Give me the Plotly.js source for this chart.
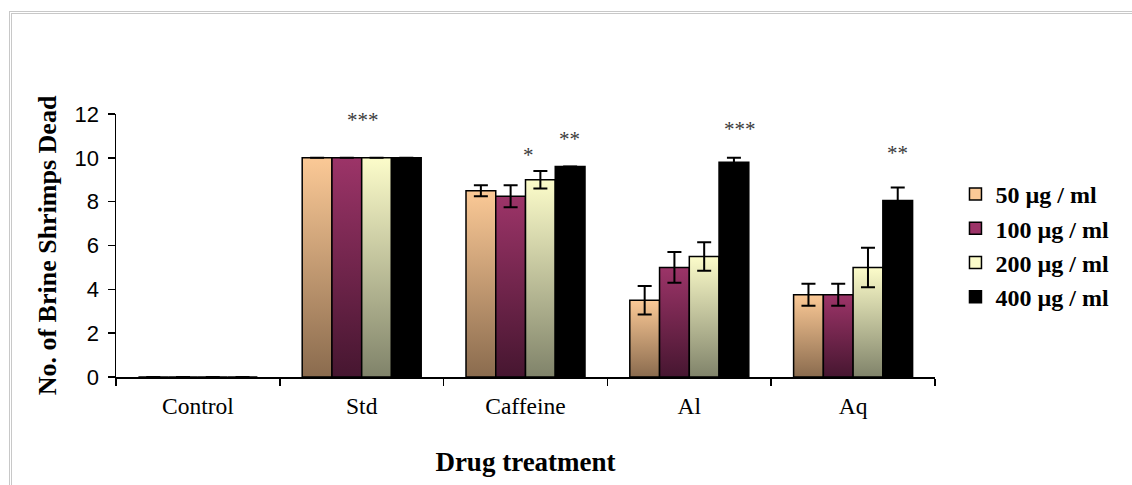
<!DOCTYPE html>
<html>
<head>
<meta charset="utf-8">
<script src="https://cdn.plot.ly/plotly-3.0.1.min.js"></script>
<style>
  html, body { margin: 0; padding: 0; background: #fff; }
  #wrap { position: relative; width: 1132px; height: 485px; overflow: hidden; }
  #frame { position: absolute; left: 9px; top: 11px; width: 1200px; height: 600px;
           border-top: 3px double #c8c8c8; border-left: 3px double #c8c8c8; box-sizing: border-box; }
  #chart { position: absolute; left: 0; top: 0; width: 1132px; height: 485px; }
</style>
</head>
<body>
<div id="wrap">
  <div id="frame"></div>
  <div id="chart"></div>
</div>
<script>
// ---- data ----
const categories = ['Control', 'Std', 'Caffeine', 'Al', 'Aq'];
const seriesNames = ['50 µg / ml', '100 µg / ml', '200 µg / ml', '400 µg / ml'];
const vals50  = [0, 10, 8.5, 3.5, 3.75];
const vals100 = [0, 10, 8.25, 5.0, 3.75];
const vals200 = [0, 10, 9.0, 5.5, 5.0];
const vals400 = [0, 10, 9.6, 9.8, 8.05];
const err50  = [0, 0, 0.25, 0.65, 0.5];
const err100 = [0, 0, 0.5, 0.7, 0.5];
const err200 = [0, 0, 0.4, 0.65, 0.9];
const err400 = [0, 0, 0, 0.2, 0.6];
// significance labels
const sigCategory = ['Std', 'Caffeine', 'Caffeine', 'Al', 'Aq'];
const sigText     = ['***', '*', '**', '***', '**'];
const sigOffset   = [0.01, 0.02, 0.27, 0.31, 0.27];
const sigY        = [11.95, 10.35, 11.1, 11.55, 10.45];
const yTicks = [0, 2, 4, 6, 8, 10, 12];

// ---- styles ----
const gradTop = ['#fbc996', '#9c3468', '#fcfcca', '#000000'];
const gradBot = ['#8a6b4e', '#461630', '#80836a', '#000000'];
const serif = 'Liberation Serif, Times New Roman, serif';
const sans = 'Liberation Sans, Arial, sans-serif';

const allVals = [vals50, vals100, vals200, vals400];
const allErr = [err50, err100, err200, err400];

const traces = seriesNames.map((name, i) => ({
  type: 'bar',
  name: name,
  x: categories,
  y: allVals[i],
  legendgroup: 'g' + i,
  marker: { color: gradTop[i], line: { color: '#000', width: 1.5 } },
  error_y: { type: 'data', array: allErr[i], visible: true, color: '#000', thickness: 2, width: 7 },
  hoverinfo: 'x+y+name'
}));

const annotations = sigText.map((t, i) => ({
  x: categories.indexOf(sigCategory[i]) + sigOffset[i],
  y: sigY[i],
  xref: 'x', yref: 'y',
  text: t,
  showarrow: false,
  yanchor: 'middle',
  yshift: -5,
  font: { family: serif, size: 21, color: '#3a3a3a' }
}));

const layout = {
  width: 1132, height: 485,
  paper_bgcolor: 'rgba(0,0,0,0)',
  plot_bgcolor: 'rgba(0,0,0,0)',
  margin: { l: 116, r: 197, t: 114, b: 108, pad: 0 },
  barmode: 'group',
  bargap: 0.2735,
  bargroupgap: 0,
  showlegend: true,
  legend: {
    x: 1.025, xanchor: 'left', y: 0.5, yanchor: 'middle',
    font: { family: serif, size: 24, color: '#000', weight: 'bold' },
    traceorder: 'grouped', tracegroupgap: 0,
    bgcolor: 'rgba(0,0,0,0)'
  },
  xaxis: {
    type: 'category',
    showline: true, linecolor: '#000', linewidth: 1.5,
    ticks: 'outside', tickson: 'boundaries', ticklen: 7, tickwidth: 1.5, tickcolor: '#000',
    showgrid: false, zeroline: false,
    tickfont: { family: serif, size: 23.5, color: '#000' },
    ticklabelstandoff: 7,
    title: { text: '<b>Drug treatment</b>', font: { family: serif, size: 27, color: '#000' }, standoff: 34 }
  },
  yaxis: {
    range: [0, 12],
    tickvals: yTicks,
    showline: true, linecolor: '#000', linewidth: 1.5,
    ticks: 'outside', ticklen: 7, tickwidth: 1.5, tickcolor: '#000',
    showgrid: false, zeroline: false,
    tickfont: { family: sans, size: 22, color: '#000' },
    ticklabelstandoff: 4,
    title: { text: '<b>No. of Brine Shrimps Dead</b>', font: { family: serif, size: 26, color: '#000' }, standoff: 10 }
  },
  annotations: annotations
};

Plotly.newPlot('chart', traces, layout, { displayModeBar: false, staticPlot: true }).then(gd => {
  const svg = gd.querySelector('svg.main-svg');
  const ns = 'http://www.w3.org/2000/svg';
  let defs = svg.querySelector('defs');
  if (!defs) { defs = document.createElementNS(ns, 'defs'); svg.insertBefore(defs, svg.firstChild); }
  gradTop.forEach((c, i) => {
    const lg = document.createElementNS(ns, 'linearGradient');
    lg.setAttribute('id', 'barGrad' + i);
    lg.setAttribute('x1', '0'); lg.setAttribute('y1', '0');
    lg.setAttribute('x2', '0'); lg.setAttribute('y2', '1');
    const s1 = document.createElementNS(ns, 'stop');
    s1.setAttribute('offset', '0'); s1.setAttribute('stop-color', c);
    const s2 = document.createElementNS(ns, 'stop');
    s2.setAttribute('offset', '1'); s2.setAttribute('stop-color', gradBot[i]);
    lg.appendChild(s1); lg.appendChild(s2);
    defs.appendChild(lg);
  });
  const barTraces = svg.querySelectorAll('.barlayer .trace');
  barTraces.forEach((tr, i) => {
    tr.querySelectorAll('.point path').forEach(p => { p.style.fill = 'url(#barGrad' + i + ')'; });
  });
});
</script>
</body>
</html>
